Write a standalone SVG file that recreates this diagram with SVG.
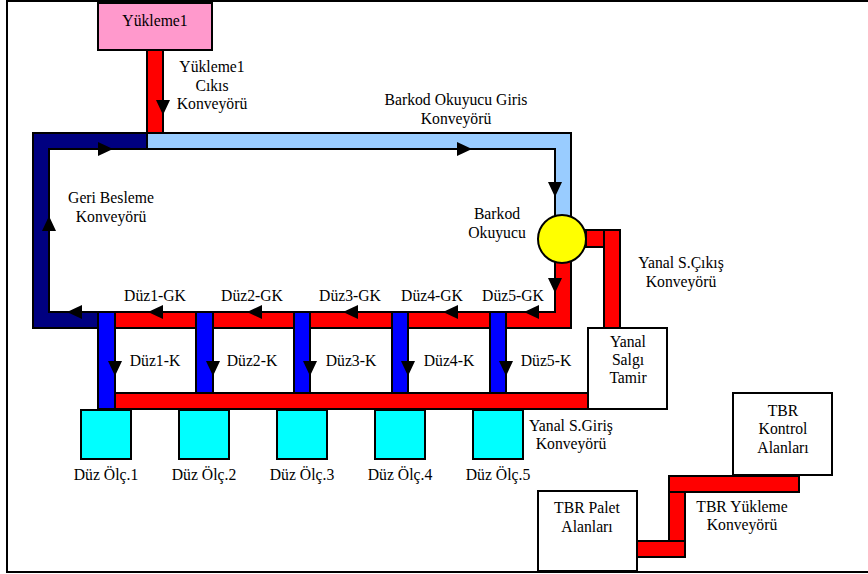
<svg xmlns="http://www.w3.org/2000/svg" width="868" height="574" viewBox="0 0 868 574" font-family="Liberation Serif, Times New Roman, Tinos, DejaVu Serif, serif">
<style>
text{font-size:15.7px;fill:#000;text-anchor:middle}
.b{stroke:#000;stroke-width:2}
.red{fill:#FF0000}
.navy{fill:#000080}
.lb{fill:#99CCFF}
.blue{fill:#0000FF}
.cy{fill:#00FFFF}
.wh{fill:#FFFFFF}
.ar{stroke:#000;stroke-width:2;fill:none;marker-end:url(#tri)}
</style>
<defs>
<marker id="tri" markerUnits="userSpaceOnUse" markerWidth="16" markerHeight="15" refX="15" refY="7" orient="auto">
<path d="M0,0 L15,7 L0,14 Z" fill="#000"/>
</marker>
</defs>
<rect x="7" y="1" width="870" height="571" fill="#fff" stroke="#000" stroke-width="2"/>

<g id="connectors">
<rect class="b red" x="147" y="50" width="16" height="83"/>
<path class="b navy" d="M33,133 H147 V149 H49 V312 H98 V328 H33 Z"/>
<path class="b lb" d="M147,133 H571 V220 H555 V149 H147 Z"/>
<path class="b red" d="M555,250 H571 V328 H115 V312 H555 Z"/>
<rect class="b red" x="586" y="230" width="18" height="17"/>
<rect class="b red" x="604" y="230" width="16" height="98"/>
<rect class="b red" x="115" y="393" width="473" height="16"/>
<rect class="b blue" x="98" y="312" width="17" height="97"/>
<rect class="b blue" x="196" y="312" width="17" height="81"/>
<rect class="b blue" x="294" y="312" width="16" height="81"/>
<rect class="b blue" x="392" y="312" width="16" height="81"/>
<rect class="b blue" x="490" y="312" width="16" height="81"/>
<rect class="b red" x="669" y="476" width="130" height="16"/>
<rect class="b red" x="669" y="492" width="16" height="49"/>
<rect class="b red" x="637" y="541" width="48" height="16"/>
<g id="arrows">
<path class="ar" d="M163,75 V115"/>
<path class="ar" d="M75,149 H113"/>
<path class="ar" d="M423,149 H472"/>
<path class="ar" d="M555,165 V197"/>
<path class="ar" d="M555,265 V293"/>
<path class="ar" d="M555,312 H524"/>
<path class="ar" d="M480,312 H443"/>
<path class="ar" d="M380,312 H343"/>
<path class="ar" d="M285,312 H247"/>
<path class="ar" d="M185,312 H148"/>
<path class="ar" d="M98,312 H67"/>
<path class="ar" d="M49,250 V216"/>
<path class="ar" d="M115,340 V376"/>
<path class="ar" d="M213,340 V376"/>
<path class="ar" d="M310,340 V376"/>
<path class="ar" d="M408,340 V376"/>
<path class="ar" d="M506,340 V376"/>
</g>
</g>

<g id="yukleme1">
<rect class="b" x="98" y="3" width="114" height="47" fill="#FF99CC"/>
<text x="155" y="26">Yükleme1</text>
</g>
<g id="barkod-okuyucu">
<circle class="b" cx="562" cy="239" r="24" fill="#FFFF00"/>
</g>
<g id="yanal-salgi-tamir">
<rect class="b wh" x="588" y="328" width="79" height="81"/>
<text x="628" y="347">Yanal</text>
<text x="628" y="365">Salgı</text>
<text x="628" y="383">Tamir</text>
</g>
<g id="duz-olc-1"><rect class="b cy" x="81" y="410" width="50" height="49"/><text x="106" y="480">Düz Ölç.1</text></g>
<g id="duz-olc-2"><rect class="b cy" x="179" y="410" width="50" height="49"/><text x="204" y="480">Düz Ölç.2</text></g>
<g id="duz-olc-3"><rect class="b cy" x="277" y="410" width="50" height="49"/><text x="302" y="480">Düz Ölç.3</text></g>
<g id="duz-olc-4"><rect class="b cy" x="375" y="410" width="50" height="49"/><text x="400" y="480">Düz Ölç.4</text></g>
<g id="duz-olc-5"><rect class="b cy" x="473" y="410" width="50" height="49"/><text x="498" y="480">Düz Ölç.5</text></g>
<g id="tbr-kontrol">
<rect class="b wh" x="733" y="393" width="99" height="82"/>
<text x="783" y="416">TBR</text>
<text x="783" y="434">Kontrol</text>
<text x="783" y="453">Alanları</text>
</g>
<g id="tbr-palet">
<rect class="b wh" x="538" y="491" width="99" height="80"/>
<text x="587" y="513">TBR Palet</text>
<text x="587" y="532">Alanları</text>
</g>

<g id="labels">
<text x="212" y="72">Yükleme1</text>
<text x="212" y="91">Cıkıs</text>
<text x="212" y="109">Konveyörü</text>
<text x="456" y="105">Barkod Okuyucu Giris</text>
<text x="456" y="124">Konveyörü</text>
<text x="497" y="219">Barkod</text>
<text x="497" y="238">Okuyucu</text>
<text x="111" y="203">Geri Besleme</text>
<text x="111" y="222">Konveyörü</text>
<text x="681" y="268">Yanal S.Çıkış</text>
<text x="681" y="287">Konveyörü</text>
<text x="155" y="301">Düz1-GK</text>
<text x="252" y="301">Düz2-GK</text>
<text x="350" y="301">Düz3-GK</text>
<text x="432" y="301">Düz4-GK</text>
<text x="513" y="301">Düz5-GK</text>
<text x="155" y="366">Düz1-K</text>
<text x="252" y="366">Düz2-K</text>
<text x="351" y="366">Düz3-K</text>
<text x="449" y="366">Düz4-K</text>
<text x="546" y="366">Düz5-K</text>
<text x="571" y="431">Yanal S.Giriş</text>
<text x="571" y="449">Konveyörü</text>
<text x="742" y="512">TBR Yükleme</text>
<text x="742" y="530">Konveyörü</text>
</g>
</svg>
